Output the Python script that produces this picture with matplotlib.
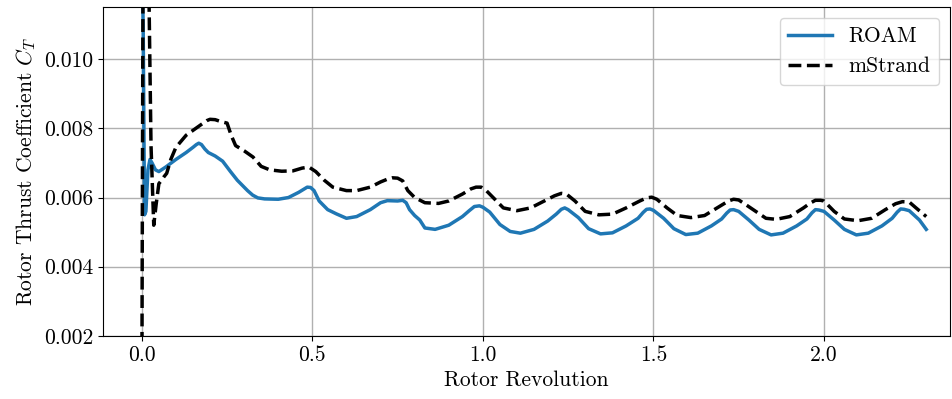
import matplotlib
matplotlib.use("Agg")
import matplotlib.pyplot as plt

plt.rcParams['font.family'] = 'serif'
plt.rcParams['font.serif'] = ['cmr10']
plt.rcParams['mathtext.fontset'] = 'cm'
plt.rcParams['axes.formatter.use_mathtext'] = True

roam_x = [0.0, 0.004, 0.008, 0.012, 0.018, 0.024, 0.030, 0.040, 0.050, 0.07, 0.10, 0.13, 0.15,
          0.160, 0.167, 0.175, 0.185, 0.195, 0.215, 0.237, 0.26, 0.28, 0.31, 0.325, 0.34, 0.36,
          0.40, 0.43, 0.46, 0.475, 0.485, 0.495, 0.505, 0.52, 0.545, 0.57, 0.60, 0.63, 0.67,
          0.70, 0.72, 0.75, 0.765, 0.775, 0.785, 0.80, 0.815, 0.83, 0.86, 0.90, 0.94, 0.96,
          0.975, 0.99, 1.00, 1.02, 1.05, 1.08, 1.11, 1.15, 1.19, 1.215, 1.23, 1.24, 1.25,
          1.28, 1.31, 1.345, 1.38, 1.42, 1.455, 1.47, 1.48, 1.49, 1.50, 1.53, 1.56, 1.595,
          1.63, 1.67, 1.70, 1.715, 1.725, 1.735, 1.75, 1.78, 1.81, 1.845, 1.88, 1.92, 1.95,
          1.965, 1.975, 1.985, 2.00, 2.03, 2.06, 2.095, 2.13, 2.17, 2.20, 2.215, 2.225,
          2.235, 2.25, 2.28, 2.30]
roam_y = [0.0130, 0.0110, 0.0055, 0.0056, 0.0068, 0.0071, 0.0070, 0.0068, 0.00675, 0.00688,
          0.00710, 0.00730, 0.00745, 0.00753, 0.00757, 0.00753, 0.00740, 0.00730, 0.00720,
          0.00705, 0.00675, 0.00650, 0.00620, 0.00607, 0.00599, 0.00596, 0.00595, 0.00600,
          0.00615, 0.00624, 0.00630, 0.00629, 0.00620, 0.00590, 0.00565, 0.00553, 0.00540,
          0.00545, 0.00565, 0.00585, 0.00591, 0.00590, 0.00592, 0.00585, 0.00565, 0.00548,
          0.00535, 0.00512, 0.00508, 0.00520, 0.00545, 0.00562, 0.00574, 0.00576, 0.00572,
          0.00558, 0.00522, 0.00502, 0.00497, 0.00508, 0.00532, 0.00552, 0.00566, 0.00570,
          0.00565, 0.00542, 0.00510, 0.00495, 0.00498, 0.00518, 0.00540, 0.00557, 0.00566,
          0.00567, 0.00563, 0.00540, 0.00510, 0.00493, 0.00497, 0.00518, 0.00538, 0.00555,
          0.00564, 0.00565, 0.00560, 0.00535, 0.00508, 0.00492, 0.00497, 0.00518, 0.00538,
          0.00556, 0.00565, 0.00564, 0.00560, 0.00535, 0.00508, 0.00492, 0.00497, 0.00518,
          0.00540, 0.00558, 0.00567, 0.00566, 0.00562, 0.00535, 0.00508]

mstrand_x = [0.0, 0.004, 0.018, 0.027, 0.035, 0.042, 0.05, 0.058, 0.065, 0.073, 0.085, 0.10,
             0.13, 0.17, 0.19, 0.20, 0.215, 0.23, 0.25, 0.262, 0.275, 0.30, 0.326, 0.35, 0.375,
             0.41, 0.443, 0.47, 0.49, 0.51, 0.535, 0.56, 0.60, 0.63, 0.67, 0.70, 0.72, 0.735,
             0.75, 0.765, 0.78, 0.80, 0.83, 0.87, 0.90, 0.94, 0.965, 0.98, 0.995, 1.01, 1.03,
             1.06, 1.10, 1.14, 1.18, 1.21, 1.23, 1.245, 1.27, 1.30, 1.34, 1.38, 1.42, 1.46,
             1.48, 1.495, 1.51, 1.54, 1.57, 1.61, 1.65, 1.69, 1.72, 1.735, 1.75, 1.77, 1.80,
             1.83, 1.86, 1.90, 1.94, 1.96, 1.975, 1.99, 2.00, 2.03, 2.06, 2.10, 2.14, 2.18,
             2.21, 2.23, 2.25, 2.27, 2.30]
mstrand_y = [0.0, 0.0140, 0.0140, 0.0075, 0.0052, 0.0058, 0.0064, 0.0065, 0.0066, 0.0067,
             0.0071, 0.00745, 0.0078, 0.00808, 0.00822, 0.00826, 0.00825, 0.0082, 0.00815,
             0.0078, 0.0075, 0.00735, 0.00717, 0.0069, 0.0068, 0.00676, 0.00677, 0.00685,
             0.00688, 0.00675, 0.0065, 0.0063, 0.0062, 0.0062, 0.0063, 0.00645, 0.00653,
             0.00657, 0.00656, 0.00648, 0.0062, 0.0060, 0.00585, 0.00583, 0.0059, 0.0061,
             0.00625, 0.0063, 0.0063, 0.0062, 0.0060, 0.0057, 0.00562, 0.0057, 0.0059,
             0.00605, 0.00612, 0.0061, 0.0059, 0.0056, 0.0055, 0.00552, 0.0057, 0.0059,
             0.00599, 0.00601, 0.00595, 0.0057, 0.00548, 0.00542, 0.00548, 0.00572, 0.0059,
             0.00595, 0.00593, 0.0058, 0.0056, 0.0054, 0.00537, 0.00545, 0.0057, 0.00584,
             0.00592, 0.00592, 0.0059, 0.0056, 0.00538, 0.00533, 0.0054, 0.00565, 0.00582,
             0.00588, 0.00587, 0.0057, 0.00545]

xticks = [0.0, 0.5, 1.0, 1.5, 2.0]
yticks = [0.002, 0.004, 0.006, 0.008, 0.010]

fig = plt.figure(figsize=(9.53, 3.99), dpi=100)
ax = fig.add_axes([0.108, 0.158, 0.889, 0.824])
ax.plot(roam_x, roam_y, color='#1f77b4', lw=2.5, label='ROAM')
ax.plot(mstrand_x, mstrand_y, color='black', lw=2.5, ls='--', label='mStrand')
ax.set_xlim(-0.114, 2.37)
ax.set_ylim(0.002, 0.0115)
ax.set_xticks(xticks)
ax.set_xticklabels([f'{t:.1f}' for t in xticks])
ax.set_yticks(yticks)
ax.set_yticklabels([f'{t:.3f}' for t in yticks])
ax.tick_params(labelsize=15.5)
ax.grid(True, color='#b0b0b0', lw=1)
ax.set_xlabel('Rotor Revolution', fontsize=15.5)
ax.set_ylabel(r'Rotor Thrust Coefficient $C_T$', fontsize=15.5)
ax.legend(loc='upper right', fontsize=15.5)
fig.savefig('out.png', dpi=100)
